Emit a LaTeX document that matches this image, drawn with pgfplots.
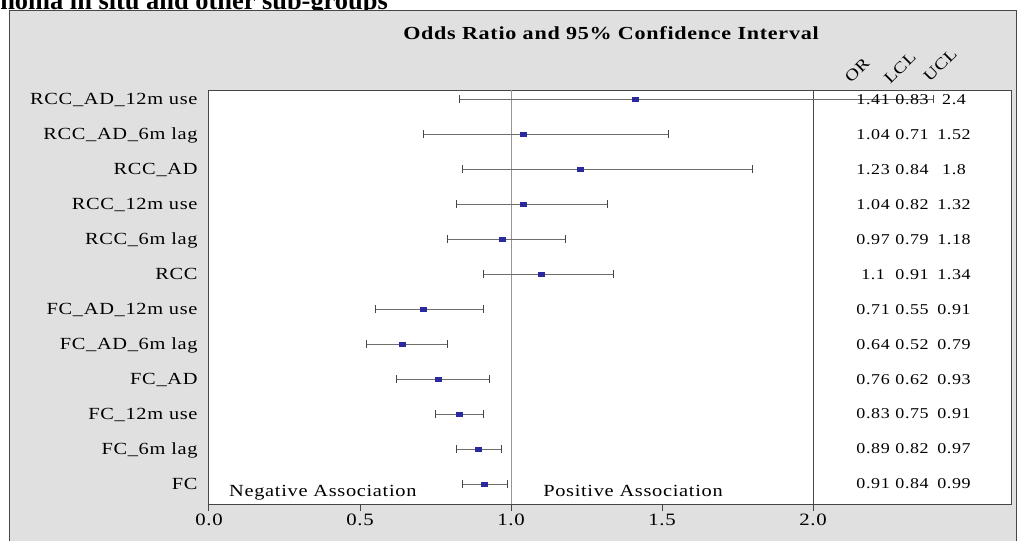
\documentclass[border=0pt]{standalone}
\usepackage{pgfplots}
\pgfplotsset{compat=1.18}
\usepackage{pgfplotstable}
\usepackage{fontspec}
\setmainfont{Liberation Serif}[FakeStretch=1.2, LetterSpace=4]
\newfontfamily\docfont{Liberation Serif}

\definecolor{panel}{RGB}{224,224,224}
\definecolor{framec}{RGB}{70,70,70}
\definecolor{markc}{RGB}{42,42,160}
\definecolor{barc}{RGB}{110,110,110}
\definecolor{refc}{RGB}{150,150,150}

% row position, odds ratio, lower and upper confidence limit
\pgfplotstableread{
y OR LCL UCL
12 1.41 0.83 2.4
11 1.04 0.71 1.52
10 1.23 0.84 1.8
9 1.04 0.82 1.32
8 0.97 0.79 1.18
7 1.1 0.91 1.34
6 0.71 0.55 0.91
5 0.64 0.52 0.79
4 0.76 0.62 0.93
3 0.83 0.75 0.91
2 0.89 0.82 0.97
1 0.91 0.84 0.99
}\ortable

\begin{document}
\begin{tikzpicture}[x=0.75pt,y=0.75pt]
\useasboundingbox (0,0) rectangle (1018,540);
% page heading running above the panel
\node[anchor=base west, inner sep=0pt, font=\docfont\bfseries\fontsize{19.8}{20}\selectfont] at (0,530) {noma in situ and other sub-groups};
% grey panel
\fill[panel] (9,-10) rectangle (1016,529);
\draw[framec, line width=0.75pt] (9,-10) rectangle (1016,529);
\node[font=\bfseries\fontsize{13.8}{15}\selectfont] at (611,507) {Odds Ratio and 95\% Confidence Interval};
\coordinate (axsw) at (209,36);

\begin{axis}[
  at={(axsw)}, anchor=south west, scale only axis,
  width=601.5pt, height=310.5pt,
  xmin=0, xmax=2.6556, ymin=0.43, ymax=12.26,
  clip=false,
  axis background/.style={fill=white},
  axis line style={framec, line width=0.75pt},
  xtick={0,0.5,1,1.5,2},
  xticklabels={0.0,0.5,1.0,1.5,2.0},
  xtick pos=bottom, tick align=outside,
  major tick length=5.25pt,
  x tick style={framec, line width=0.75pt},
  xticklabel style={font=\fontsize{13}{14}\selectfont, anchor=base, yshift=-11pt},
  ytick={1,...,12},
  yticklabels={FC, FC\_6m lag, FC\_12m use, FC\_AD, FC\_AD\_6m lag, FC\_AD\_12m use,
               RCC, RCC\_6m lag, RCC\_12m use, RCC\_AD, RCC\_AD\_6m lag, RCC\_AD\_12m use},
  y tick style={draw=none},
  yticklabel style={font=\fontsize{12.75}{14}\selectfont, anchor=base east, yshift=-4pt, xshift=0.2pt},
]
% reference line at OR = 1 and the divider of the value table
\addplot[refc, line width=0.75pt] coordinates {(1,0.43) (1,12.26)};
\addplot[framec, line width=0.75pt] coordinates {(2,0.43) (2,12.26)};

% value table: OR, LCL, UCL
\addplot[only marks, mark=*, mark size=0pt, mark options={draw=none, fill=none},
  nodes near coords, point meta=explicit symbolic,
  nodes near coords style={anchor=base, yshift=-3.7pt, font=\fontsize{11.25}{13}\selectfont, black}]
  table[x expr=2.199, y=y, meta=OR] {\ortable};
\addplot[only marks, mark=*, mark size=0pt, mark options={draw=none, fill=none},
  nodes near coords, point meta=explicit symbolic,
  nodes near coords style={anchor=base, yshift=-3.7pt, font=\fontsize{11.25}{13}\selectfont, black}]
  table[x expr=2.328, y=y, meta=LCL] {\ortable};
\addplot[only marks, mark=*, mark size=0pt, mark options={draw=none, fill=none},
  nodes near coords, point meta=explicit symbolic,
  nodes near coords style={anchor=base, yshift=-3.7pt, font=\fontsize{11.25}{13}\selectfont, black}]
  table[x expr=2.467, y=y, meta=UCL] {\ortable};

% odds ratios with confidence intervals
\addplot[only marks, mark=square*, mark size=1.5pt,
  mark options={xscale=1.5, fill=markc, draw=markc},
  error bars/.cd, x dir=both, x explicit,
  error bar style={barc, line width=0.75pt},
  error mark=|,
  error mark options={framec, line width=0.75pt, mark size=3pt}]
  table[x=OR, y=y,
        x error plus expr=\thisrow{UCL}-\thisrow{OR},
        x error minus expr=\thisrow{OR}-\thisrow{LCL}] {\ortable};

% column headings
\node[rotate=45, font=\fontsize{12}{13}\selectfont] at (axis cs:2.146,12.83) {OR};
\node[rotate=45, font=\fontsize{12}{13}\selectfont] at (axis cs:2.288,12.89) {LCL};
\node[rotate=45, font=\fontsize{12}{13}\selectfont] at (axis cs:2.421,12.97) {UCL};

% direction of association
\node[anchor=base west, inner sep=0pt, font=\fontsize{12.75}{14}\selectfont] at (axis cs:0.066,0.657) {Negative Association};
\node[anchor=base west, inner sep=0pt, font=\fontsize{12.75}{14}\selectfont] at (axis cs:1.106,0.657) {Positive Association};
\end{axis}
\end{tikzpicture}
\end{document}
